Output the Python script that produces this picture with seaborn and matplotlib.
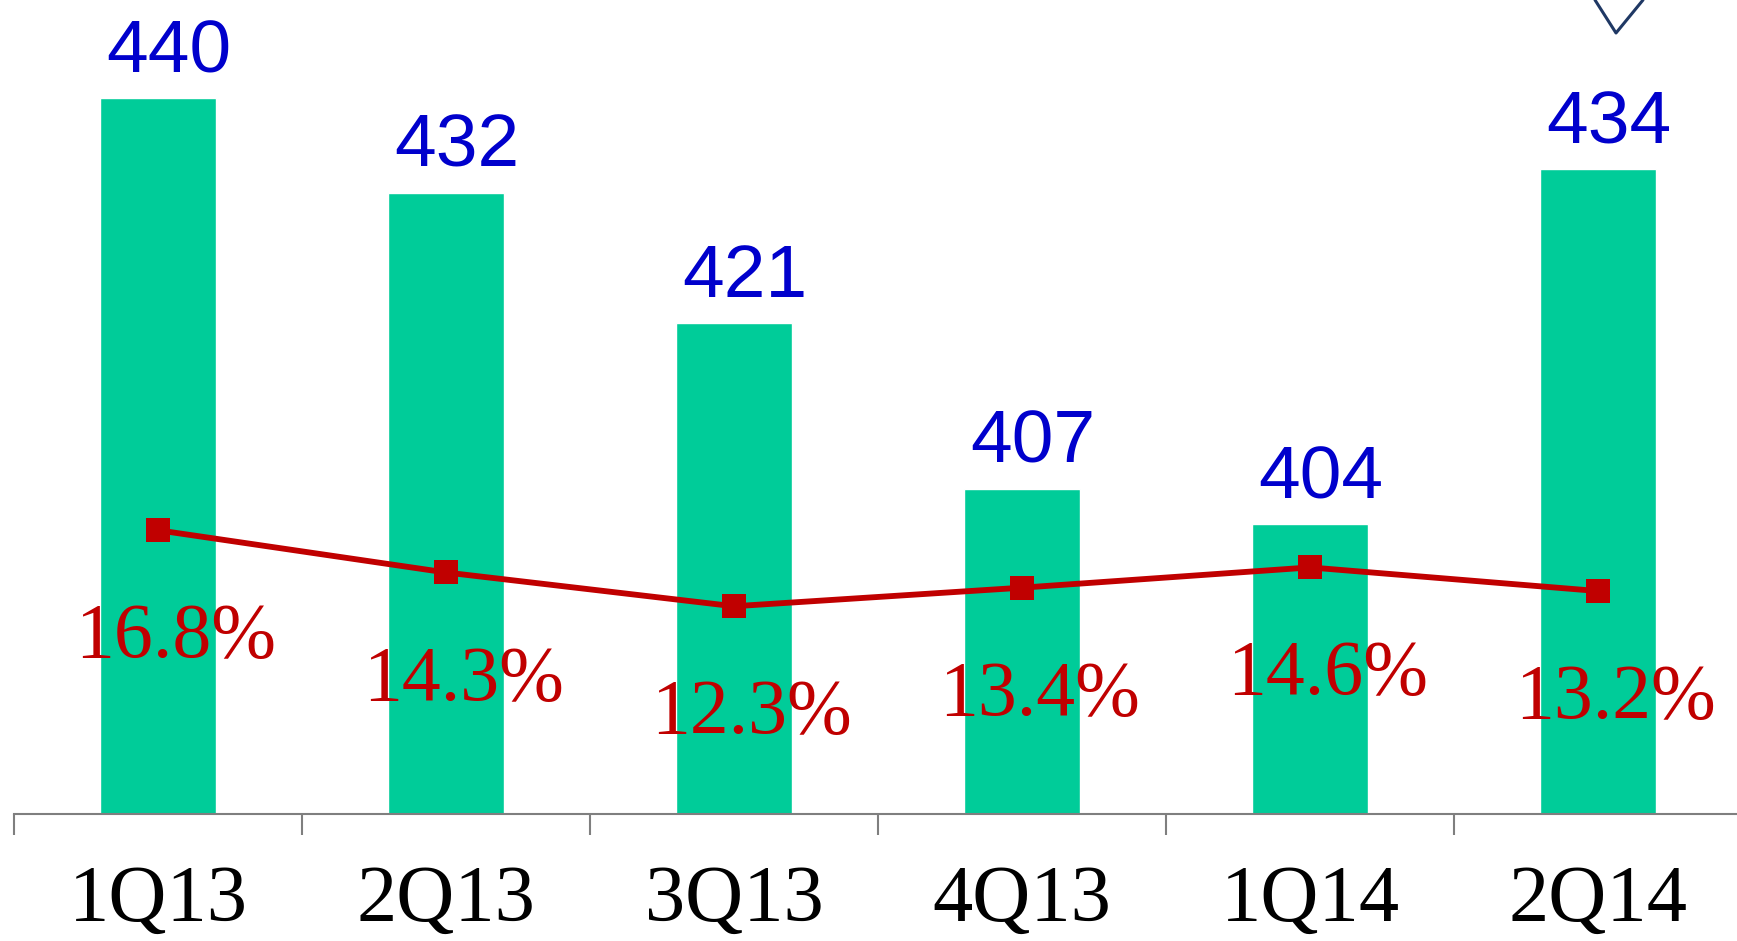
import numpy as np
import pandas as pd
import matplotlib as mpl

mpl.use('Agg')

import matplotlib.pyplot as plt
import seaborn as sns
from matplotlib import font_manager
from matplotlib.lines import Line2D

# data
quarters = ['1Q13', '2Q13', '3Q13', '4Q13', '1Q14', '2Q14']
volume = [440, 432, 421, 407, 404, 434]
margin_pct = [16.8, 14.3, 12.3, 13.4, 14.6, 13.2]

BAR_COLOR = '#00CC99'
LINE_COLOR = '#C00000'
BLUE = '#0000CC'

installed = {f.name for f in font_manager.fontManager.ttflist}
narrow = 'Liberation Sans Narrow' if 'Liberation Sans Narrow' in installed else 'Liberation Sans'
serif = 'Liberation Serif'

sns.set_style('white')
plt.rcParams['font.family'] = [serif, 'DejaVu Serif']

df = pd.DataFrame({'quarter': quarters, 'volume': volume, 'pct': margin_pct})
pos = np.arange(len(quarters))

fig = plt.figure(figsize=(17.37, 9.41), dpi=100)
ax = fig.add_axes([0.00806, 0.135, 0.9948, 0.865])

sns.barplot(data=df, x='quarter', y='volume', color=BAR_COLOR, width=0.4,
            saturation=1, ax=ax)
ax.set_ylim(379.5, 448.3)
ax.set_xlim(-0.5, 5.5)

# bar value labels
label_size = 62 if narrow != 'Liberation Sans' else 54
for x, v in zip(pos, volume):
    ax.annotate(str(v), (x, v), xytext=(11, 26), textcoords='offset pixels',
                ha='center', va='baseline', fontsize=label_size, color=BLUE,
                family=narrow)

ax2 = ax.twinx()
sns.lineplot(x=pos, y=margin_pct, ax=ax2, color=LINE_COLOR, linewidth=4.2,
             marker='s', markersize=17, markeredgewidth=0, zorder=3)
ax2.set_ylim(0, 48.2)
ax2.set_xlim(-0.5, 5.5)

for x, p in zip(pos, margin_pct):
    ax2.annotate(f'{p:.1f}%', (x, p), xytext=(18, -127), textcoords='offset pixels',
                 ha='center', va='baseline', fontsize=56, color=LINE_COLOR)

# axes cosmetics
for a in (ax, ax2):
    for s in a.spines.values():
        s.set_visible(False)
    a.set_yticks([])
    a.set_ylabel('')
    a.set_xlabel('')

ax.spines['bottom'].set_visible(True)
ax.spines['bottom'].set_color('#7F7F7F')
ax.spines['bottom'].set_linewidth(1.5)

ax.set_xticks(np.arange(-0.5, 6.0, 1.0))
ax.set_xticklabels([])
ax.tick_params(axis='x', which='major', direction='out', length=15, width=1.5,
               color='#7F7F7F', bottom=True)
ax.set_xticks(pos, minor=True)
ax.set_xticklabels(quarters, minor=True, fontsize=58, color='black')
ax.tick_params(axis='x', which='minor', length=0, pad=37)

# chevron shape cut off at the top right
fig.add_artist(Line2D([1595 / 1737, 1616 / 1737, 1643 / 1737],
                      [1.0, 1 - 33 / 941, 1.0], transform=fig.transFigure,
                      color='#1F3864', linewidth=2.2))

fig.savefig('out.png', dpi=100)
